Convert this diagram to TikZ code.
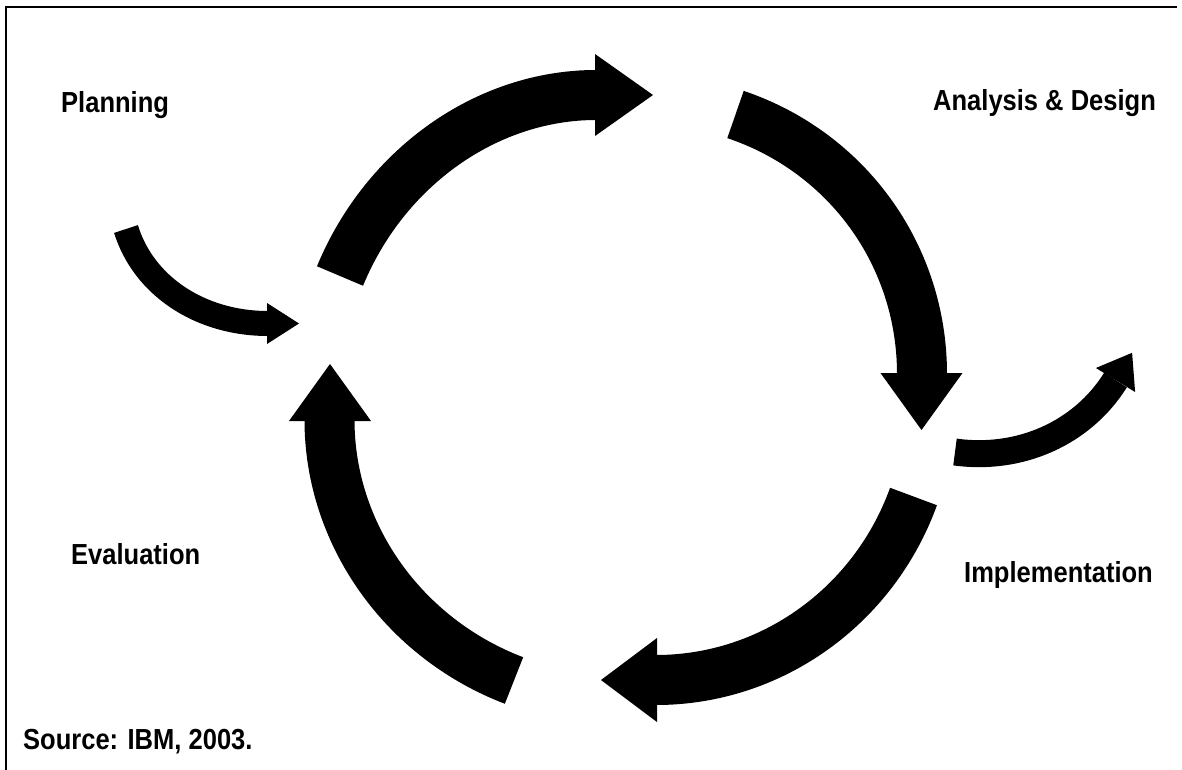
\documentclass[tikz,border=0pt]{standalone}
\usepackage{fontspec}
\setmainfont{Liberation Sans}
\newfontfamily\labfont[FakeStretch=0.88]{Liberation Sans}
\begin{document}
\begin{tikzpicture}[x=1pt,y=-1pt,
  bigbody/.style={line width=50pt, line cap=butt, black},
  smallbody/.style={line width=25pt, line cap=butt, black},
  headfill/.style={fill=black},
  lab/.style={font=\labfont\bfseries\fontsize{29}{34}\selectfont, anchor=base west, inner sep=0pt}]
\useasboundingbox (0,0) rectangle (1182,770);
% frame (top and left only)
\draw[line width=2.8pt] (6,770) -- (6,7) -- (1177,7);

% named points
\coordinate (t1) at (340,276);   \coordinate (h1) at (596,95);
\coordinate (t2) at (735.5,114.5); \coordinate (h2) at (922,374);
\coordinate (t3) at (913.5,496.5); \coordinate (h3) at (656,680);
\coordinate (t4) at (514,680.5); \coordinate (h4) at (329.5,420);
\coordinate (ts1) at (126,229);  \coordinate (hs1) at (268,323.5);
\coordinate (ts2) at (955,452);  \coordinate (hs2) at (1115.5,380);

% arrow 1: Planning -> Analysis
\draw[bigbody] (t1) .. controls (385,167) and (487,95) .. (h1);
\fill[headfill] (595,54) -- (653,95) -- (595,136) -- cycle;
% arrow 2: Analysis -> Implementation
\draw[bigbody] (t2) .. controls (847,152) and (922,255) .. (h2);
\fill[headfill] (880.5,373) -- (921.5,430) -- (962.5,373) -- cycle;
% arrow 3: Implementation -> Evaluation
\draw[bigbody] (t3) .. controls (873.7,606.5) and (771,680) .. (h3);
\fill[headfill] (657,638) -- (601,680) -- (657,722) -- cycle;
% arrow 4: Evaluation -> Planning
\draw[bigbody] (t4) .. controls (403,638) and (329.5,534) .. (h4);
\fill[headfill] (289,421) -- (330,364) -- (371,421) -- cycle;

% small entry arrow
\draw[smallbody] (ts1) .. controls (143.4,285.7) and (200,323.5) .. (hs1);
\fill[headfill] (267,303) -- (299,323.5) -- (267,344) -- cycle;
% small exit arrow
\draw[smallbody, line width=27pt] (ts2) .. controls (1020,461) and (1082.5,433) .. (hs2);
\fill[headfill] (1095.9,368) -- (1132.1,352.8) -- (1135.1,392) -- cycle;

% labels
\node[lab] (plan) at (61,113) {Planning};
\node[lab] (ana) at (933,111) {Analysis \& Design};
\node[lab] (eva) at (71,564) {Evaluation};
\node[lab] (imp) at (964,582) {Implementation};
\node[lab] (src) at (23,749) {Source: IBM, 2003.};
\end{tikzpicture}
\end{document}
